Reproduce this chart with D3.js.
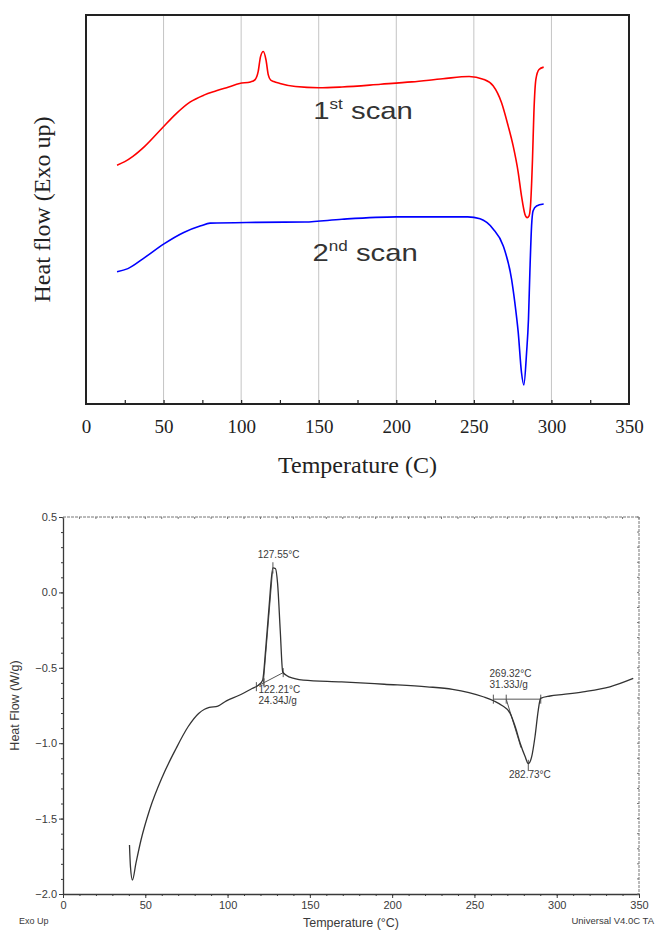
<!DOCTYPE html>
<html>
<head>
<meta charset="utf-8">
<script src="https://cdn.jsdelivr.net/npm/d3@7"></script>
<style>
  html, body { margin: 0; padding: 0; background: #fff; }
  svg { display: block; }
</style>
</head>
<body>
<svg id="chart" width="670" height="945"></svg>
<script>
// ---------- Top chart data (arbitrary heat-flow units, Exo up) ----------
const scan1T = [20,25,30,38,49,58,67,76,84,92,99,106,109,111,112.5,114.3,116,117.5,119,121,125,135,150,165,190,210,230,247,256,262.4,267.8,272.1,275.3,278.6,280.7,282.9,284.4,285.5,286.5,287.8,288.7,290,292,295];
const scan1V = [61.4,62.3,63.6,66.3,70.9,74.6,77.6,79.4,80.5,81.5,82.4,82.8,83.4,85.5,89.3,90.6,88.5,84.6,83.3,82.9,82.4,81.6,81.3,81.5,82.2,82.8,83.6,84.2,83.5,81.8,77.5,71.5,66.4,59.5,53.5,48.8,47.9,48.3,50.9,62.9,74.9,83.5,86.0,86.6];
const scan2T = [20,27,38,50,63,74,80,110,141,165,200,246,254,262.4,268.9,274.3,276.4,278.6,280.7,282.2,284,285.2,286.1,287.2,288.2,290.4,295];
const scan2V = [34.0,34.8,37.7,41.1,44.1,45.8,46.5,46.7,46.8,47.5,48.1,48.1,47.6,45.0,40.7,32.1,26.1,18.4,8.1,4.9,13.3,21.8,33.8,45.8,49.7,50.9,51.4];
const topXTicks = [0,50,100,150,200,250,300,350];
const topMinorTicks = [25,50,75,100,125,150,175,200,225,250,275,300,325];
const topGrid = [50,100,150,200,250,300];
const scanLabels = [
  {main: "1", sup: "st", rest: " scan", T: 146.5, v: 73.2},
  {main: "2", sup: "nd", rest: " scan", T: 146.0, v: 36.8}
];

// ---------- Bottom chart data (W/g) ----------
const dscT = [40.4,41,42.2,44.3,47.4,52.6,60.4,68.2,76,82.4,86,88.9,94.1,99.3,107.1,114.9,118.7,121.3,123.1,125.2,127.55,129.1,130.4,132,133.5,135.6,140.8,146,169.3,195.2,221.2,236.7,255.3,262,266.5,271.7,274.8,277.8,280.8,282.73,284.8,286.8,288.8,290.2,295.9,304.2,316,332.3,346.5];
const dscV = [-1.675,-1.82,-1.907,-1.797,-1.642,-1.443,-1.222,-1.046,-0.891,-0.803,-0.775,-0.763,-0.754,-0.719,-0.682,-0.637,-0.615,-0.582,-0.383,-0.096,0.162,0.158,0.058,-0.251,-0.527,-0.549,-0.571,-0.582,-0.593,-0.609,-0.626,-0.643,-0.692,-0.72,-0.748,-0.802,-0.891,-1.0,-1.089,-1.135,-1.089,-0.957,-0.78,-0.703,-0.687,-0.676,-0.659,-0.626,-0.57];
const botXTicks = [0,50,100,150,200,250,300,350];
const botYTicks = [0.5,0.0,-0.5,-1.0,-1.5,-2.0];
// analysis constructions (temperature, heat flow)
const exoBaseline = [[117.5,-0.625],[133.8,-0.532]];
const exoTangent = [[121.6,-0.62],[127.3,0.14]];
const exoMarks = [[117.5,-0.625],[122.21,-0.60],[133.8,-0.532]];
const endoBaseline = [[261.5,-0.708],[290.3,-0.708]];
const endoTangent = [[269.32,-0.708],[278.3,-1.03]];
const endoMarks = [[261.5,-0.708],[269.32,-0.708],[290.3,-0.708]];
const peakMarks = [[127.55,0.17],[282.73,-1.14]];
const dscLabels = [
  {text: "127.55°C", T: 118.3, v: 0.225},
  {text: "122.21°C", T: 118.8, v: -0.665},
  {text: "24.34J/g", T: 118.8, v: -0.738},
  {text: "269.32°C", T: 259.2, v: -0.56},
  {text: "31.33J/g", T: 259.2, v: -0.632},
  {text: "282.73°C", T: 271.0, v: -1.228}
];

const svg = d3.select("#chart");

// ================= TOP CHART =================
{
  const L = 86, R = 629, T = 15, B = 404;
  const x = d3.scaleLinear().domain([0,350]).range([L,R]);
  const y = d3.scaleLinear().domain([0,100]).range([B,T]);
  const g = svg.append("g");

  g.selectAll("line.grid").data(topGrid).join("line")
    .attr("x1", d => x(d)).attr("x2", d => x(d))
    .attr("y1", T).attr("y2", B)
    .attr("stroke", "#c4c4c4").attr("stroke-width", 1);

  const ax1 = d3.axisBottom(x).tickValues(topMinorTicks).tickSize(-4).tickFormat("");
  const a1 = g.append("g").attr("transform", `translate(0,${B})`).call(ax1);
  a1.select(".domain").remove();
  a1.selectAll(".tick line").attr("stroke", "#222").attr("stroke-width", 1.2);

  const ax2 = d3.axisBottom(x).tickValues(topXTicks).tickSize(0).tickPadding(16).tickFormat(d3.format("d"));
  const a2 = g.append("g").attr("transform", `translate(0,${B})`).call(ax2);
  a2.select(".domain").remove();
  a2.selectAll(".tick text")
    .attr("font-family", "'Liberation Serif', 'DejaVu Serif', serif")
    .attr("font-size", 19).attr("fill", "#222");

  g.append("rect").attr("x", L).attr("y", T).attr("width", R-L).attr("height", B-T)
    .attr("fill", "none").attr("stroke", "#222").attr("stroke-width", 2);

  const line = d3.line().x(d => x(d[0])).y(d => y(d[1])).curve(d3.curveMonotoneX);
  g.append("path").datum(d3.zip(scan1T, scan1V))
    .attr("d", line).attr("fill", "none").attr("stroke", "#ff0000").attr("stroke-width", 1.6);
  g.append("path").datum(d3.zip(scan2T, scan2V))
    .attr("d", line).attr("fill", "none").attr("stroke", "#0000ff").attr("stroke-width", 1.6);

  scanLabels.forEach(s => {
    const t = g.append("text")
      .attr("transform", `translate(${x(s.T)},${y(s.v)}) scale(1.22,1)`)
      .attr("font-family", "'Liberation Sans', Arial, sans-serif")
      .attr("font-size", 24).attr("fill", "#333");
    t.append("tspan").text(s.main);
    t.append("tspan").text(s.sup).attr("font-size", 14).attr("dy", -10);
    t.append("tspan").text(s.rest).attr("dy", 10);
  });

  g.append("text")
    .attr("transform", `translate(${50},${(T+B)/2}) rotate(-90)`)
    .attr("text-anchor", "middle")
    .attr("font-family", "'Liberation Serif', 'DejaVu Serif', serif")
    .attr("font-size", 24).attr("fill", "#222")
    .text("Heat flow (Exo up)");
  g.append("text")
    .attr("x", x(175)).attr("y", 473)
    .attr("text-anchor", "middle")
    .attr("font-family", "'Liberation Serif', 'DejaVu Serif', serif")
    .attr("font-size", 24).attr("fill", "#222")
    .text("Temperature (C)");
}

// ================= BOTTOM CHART =================
{
  const L = 63, R = 639, T = 517, B = 894;
  const x = d3.scaleLinear().domain([0,350]).range([L,R]);
  const y = d3.scaleLinear().domain([-2.0,0.5]).range([B,T]);
  const g = svg.append("g");
  const col = "#3a3a3a";
  const font = "'Liberation Sans', Arial, sans-serif";

  g.append("line").attr("x1", L).attr("x2", R).attr("y1", T).attr("y2", T)
    .attr("stroke", "#777").attr("stroke-width", 1).attr("stroke-dasharray", "3,1");
  g.append("line").attr("x1", R).attr("x2", R).attr("y1", T).attr("y2", B)
    .attr("stroke", "#777").attr("stroke-width", 1).attr("stroke-dasharray", "3,1");

  const xMinor = d3.range(0, 351, 10);
  const axm = d3.axisBottom(x).tickValues(xMinor).tickSize(2).tickFormat("");
  const gm = g.append("g").attr("transform", `translate(0,${B})`).call(axm);
  gm.select(".domain").remove();
  gm.selectAll(".tick line").attr("stroke", col);
  const ax = d3.axisBottom(x).tickValues(botXTicks).tickSize(4).tickPadding(3).tickSizeOuter(0).tickFormat(d3.format("d"));
  const gx = g.append("g").attr("transform", `translate(0,${B})`).call(ax);
  gx.select(".domain").attr("stroke", col).attr("stroke-width", 1.3);
  gx.selectAll(".tick line").attr("stroke", col);
  gx.selectAll(".tick text").attr("font-family", font).attr("font-size", 11).attr("fill", col);

  const yMinor = d3.range(-20, 6, 1).map(d => d/10);
  const aym = d3.axisLeft(y).tickValues(yMinor).tickSize(2).tickFormat("");
  const gym = g.append("g").attr("transform", `translate(${L},0)`).call(aym);
  gym.select(".domain").remove();
  gym.selectAll(".tick line").attr("stroke", col);
  const ay = d3.axisLeft(y).tickValues(botYTicks).tickSize(4).tickPadding(2).tickSizeOuter(0).tickFormat(d3.format(".1f"));
  const gy = g.append("g").attr("transform", `translate(${L},0)`).call(ay);
  gy.select(".domain").attr("stroke", col).attr("stroke-width", 1.3);
  gy.selectAll(".tick line").attr("stroke", col);
  gy.selectAll(".tick text").attr("font-family", font).attr("font-size", 11).attr("fill", col);

  g.selectAll("line.tt").data(xMinor).join("line")
    .attr("x1", d => x(d)).attr("x2", d => x(d)).attr("y1", T).attr("y2", T+2)
    .attr("stroke", "#777");
  g.selectAll("line.rt").data(yMinor).join("line")
    .attr("x1", R-2).attr("x2", R).attr("y1", d => y(d)).attr("y2", d => y(d))
    .attr("stroke", "#777");

  const seg = d3.line().x(d => x(d[0])).y(d => y(d[1]));
  const line = d3.line().x(d => x(d[0])).y(d => y(d[1])).curve(d3.curveMonotoneX);
  [exoBaseline, exoTangent, endoBaseline, endoTangent].forEach(s => {
    g.append("path").datum(s).attr("d", seg)
      .attr("fill", "none").attr("stroke", "#555").attr("stroke-width", 1);
  });
  g.selectAll("line.mk").data(exoMarks.concat(endoMarks)).join("line")
    .attr("x1", d => x(d[0])).attr("x2", d => x(d[0]))
    .attr("y1", d => y(d[1]+0.03)).attr("y2", d => y(d[1]-0.03))
    .attr("stroke", "#555").attr("stroke-width", 1);
  g.selectAll("line.pk").data(peakMarks).join("line")
    .attr("x1", d => x(d[0])).attr("x2", d => x(d[0]))
    .attr("y1", d => y(d[1]+0.03)).attr("y2", d => y(d[1]-0.045))
    .attr("stroke", "#555").attr("stroke-width", 1);

  g.append("path").datum(d3.zip(dscT, dscV)).attr("d", line)
    .attr("fill", "none").attr("stroke", "#333").attr("stroke-width", 1.3);

  g.selectAll("text.lab").data(dscLabels).join("text")
    .attr("x", d => x(d.T)).attr("y", d => y(d.v))
    .attr("font-family", font).attr("font-size", 10).attr("fill", col)
    .text(d => d.text);

  g.append("text")
    .attr("transform", `translate(${16},${y(-0.75)}) rotate(-90)`)
    .attr("text-anchor", "middle").attr("dominant-baseline", "middle")
    .attr("font-family", font).attr("font-size", 12.5).attr("fill", col)
    .text("Heat Flow (W/g)");
  g.append("text")
    .attr("x", x(175)).attr("y", 927)
    .attr("text-anchor", "middle")
    .attr("font-family", font).attr("font-size", 12.5).attr("fill", col)
    .text("Temperature (°C)");
  g.append("text")
    .attr("x", 19).attr("y", 924)
    .attr("font-family", font).attr("font-size", 9).attr("fill", col)
    .text("Exo Up");
  g.append("text")
    .attr("x", 654).attr("y", 924).attr("text-anchor", "end")
    .attr("font-family", font).attr("font-size", 9.5).attr("fill", col)
    .text("Universal V4.0C TA");
}
</script>
</body>
</html>
